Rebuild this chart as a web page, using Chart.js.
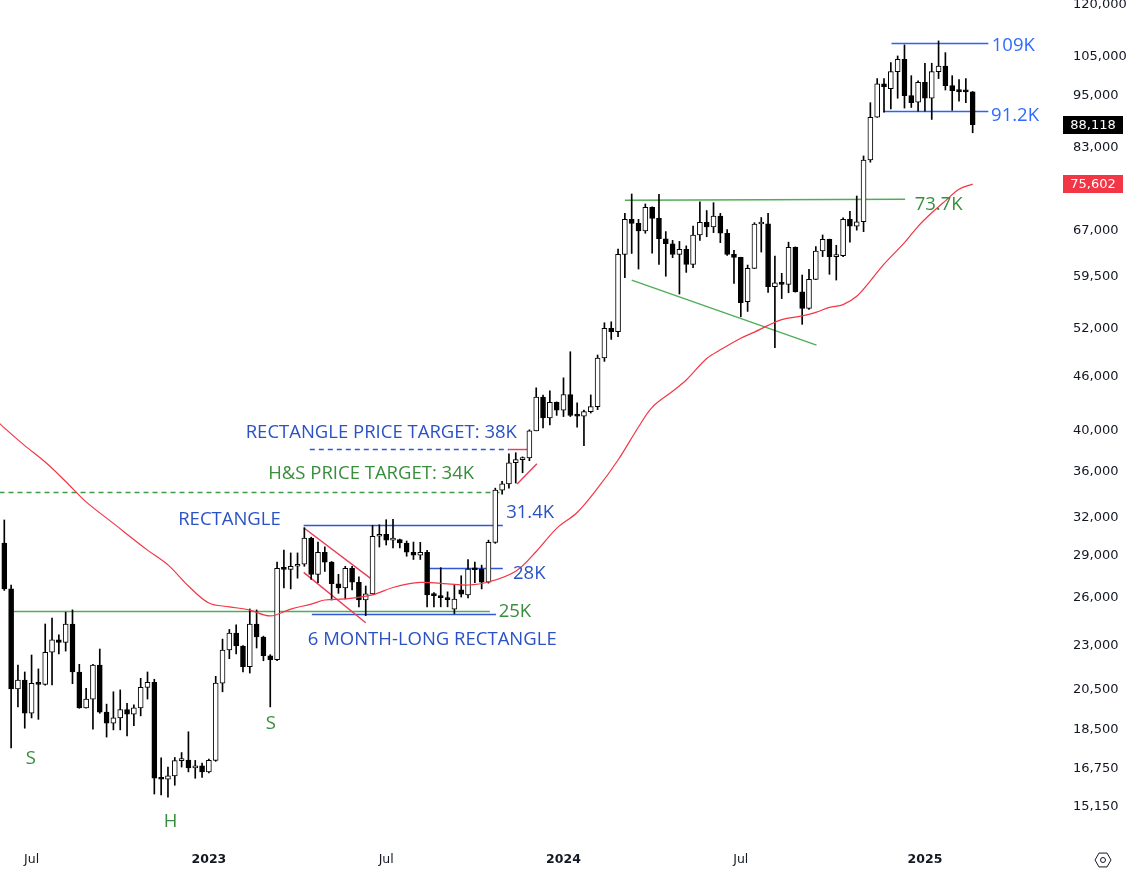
<!DOCTYPE html>
<html>
<head>
<meta charset="utf-8">
<title>BTC weekly</title>
<script src="https://cdn.jsdelivr.net/npm/chart.js@4.4.1/dist/chart.umd.min.js"></script>
<style>
  html, body { margin: 0; padding: 0; background: #fff; }
  #wrap { width: 1131px; height: 870px; }
</style>
</head>
<body>
<div id="wrap"><canvas id="btcChart" width="1131" height="870"></canvas></div>
<script>
// weekly candles, week of Jun 6 2022 -> week of Feb 24 2025
const open = [29950, 26600, 20550, 21030, 19310, 20850, 20790, 22590, 23320, 23170,
  24300, 21470, 19570, 20020, 21860, 19360, 18810, 19070, 19480, 19260,
  19570, 20630, 20900, 16320, 16280, 16420, 17080, 17100, 16760, 16850,
  16590, 17090, 20860, 22720, 23730, 22960, 21770, 24300, 23500, 22390,
  22160, 28060, 27980, 28200, 28350, 30320, 27620, 29240, 28500, 26960,
  26670, 28060, 27060, 25850, 26260, 30470, 30630, 30170, 30220, 29950,
  29240, 29030, 29240, 26190, 26140, 26000, 25240, 26540, 26190, 28000,
  28000, 27060, 29990, 34320, 34880, 36840, 37130, 37300, 40000, 43650,
  41340, 43060, 42200, 43930, 41620, 41550, 42030, 42580, 48270, 52100,
  51650, 63070, 69030, 68320, 67000, 71210, 69200, 65660, 64820, 63070,
  63890, 61450, 66300, 68500, 67700, 69630, 66590, 63070, 62570, 55810,
  60830, 68200, 68250, 58010, 58600, 58360, 64220, 57270, 54860, 59130,
  63610, 65570, 62690, 62850, 69030, 67820, 68600, 80450, 89830, 97890,
  96730, 101040, 104330, 94980, 93370, 98320, 94340, 101040, 102520, 97460,
  96200, 95960, 95900];
const high = [31780, 26870, 21860, 21470, 22430, 21640, 24300, 24680, 23630, 25050,
  25200, 21900, 20580, 21900, 22780, 19760, 20400, 20500, 19800, 19720,
  21120, 21470, 21070, 17200, 16800, 17220, 17440, 18400, 17090, 16970,
  17150, 21230, 23370, 23960, 24240, 22980, 25260, 25200, 23550, 22450,
  28500, 29400, 29190, 29190, 31150, 30400, 30020, 29650, 28550, 27620,
  28200, 28200, 27440, 26800, 31340, 31390, 31800, 31840, 30250, 30100,
  30020, 30000, 29380, 26350, 28100, 26400, 26870, 27520, 28700, 28500,
  28280, 30170, 34500, 35110, 37700, 37800, 37400, 40100, 44690, 43850,
  44350, 43100, 45860, 49050, 43000, 42200, 43880, 48640, 52860, 52990,
  63910, 70100, 73690, 69030, 71820, 71300, 73630, 66880, 65380, 65200,
  64460, 67850, 72230, 70610, 72060, 70100, 67230, 63740, 62600, 61350,
  68430, 69350, 70100, 62800, 60050, 65080, 64300, 59790, 60680, 64340,
  66300, 65600, 64560, 69310, 70490, 73310, 81290, 93270, 99250, 99250,
  103420, 105220, 108250, 100000, 98650, 103260, 103260, 109380, 106120, 100000,
  99000, 99250, 96000];
const low = [26500, 17650, 19620, 18570, 19070, 19000, 20750, 20760, 22500, 22660,
  20830, 19550, 19550, 18530, 19300, 18150, 18490, 18490, 18200, 18690,
  19170, 20020, 15670, 15630, 15540, 16030, 16800, 16590, 16320, 16360,
  16550, 17050, 20400, 22220, 22500, 21470, 21410, 22840, 22100, 19620,
  22100, 26670, 26600, 27350, 28200, 27260, 27040, 27830, 25850, 26300,
  25920, 26540, 25400, 24830, 26250, 29640, 29790, 29570, 29570, 28940,
  28700, 28700, 25400, 25400, 25400, 25400, 24950, 26050, 25990, 27040,
  26600, 27000, 29920, 33970, 34500, 34960, 35900, 37030, 40000, 40290,
  40600, 41620, 41500, 41500, 40370, 38500, 41880, 42250, 47850, 50640,
  51000, 59380, 63210, 60720, 66590, 63260, 61450, 59600, 62530, 56930,
  60200, 60920, 65380, 66000, 66700, 65000, 62900, 58520, 53690, 54430,
  60800, 63440, 57180, 49560, 56260, 57120, 57200, 52650, 54720, 59100,
  62700, 59900, 59020, 62700, 65080, 67130, 66870, 80000, 89800, 91000,
  91750, 94340, 91980, 92120, 91260, 91260, 89320, 99250, 96370, 91440,
  93640, 93270, 86300];
const close = [26600, 20550, 21030, 19310, 20850, 20790, 22590, 23320, 23170, 24300,
  21470, 19570, 20020, 21860, 19360, 18810, 19070, 19480, 19260, 19570,
  20630, 20900, 16320, 16280, 16420, 17080, 17100, 16760, 16850, 16590,
  17090, 20860, 22720, 23730, 22960, 21770, 24300, 23500, 22390, 22160,
  28060, 27980, 28200, 28350, 30320, 27620, 29240, 28500, 26960, 26670,
  28060, 27060, 25850, 26260, 30470, 30630, 30170, 30220, 29950, 29240,
  29030, 29240, 26190, 26140, 26000, 25880, 25920, 26240, 28000, 27950,
  27060, 29990, 34320, 34880, 36840, 37130, 37300, 40000, 43650, 41340,
  43060, 42200, 43930, 41620, 41550, 42030, 42580, 48270, 52100, 51650,
  63070, 69030, 68320, 67000, 71210, 69200, 65660, 64820, 63070, 63890,
  61450, 66300, 68500, 67700, 69630, 66590, 63070, 62570, 55670, 60830,
  68200, 68250, 58010, 58600, 58360, 64220, 57270, 54860, 59130, 63610,
  65570, 62690, 62850, 69030, 67820, 68600, 80450, 89830, 97890, 97200,
  101040, 104330, 94980, 93270, 98320, 94340, 101040, 102520, 97460, 96200,
  95960, 95900, 88118];

// moving average (red), read at these week indexes
const maWeek = [-1, 0, 3, 6, 9, 12, 16, 21, 24, 27, 30, 33, 36, 39, 42, 45, 47, 50, 54, 57,
  61, 65, 68, 71, 75, 78, 81, 84, 87, 90, 93, 95, 98, 100, 103, 105, 108, 110, 112, 114,
  117, 119, 121, 123, 125, 127, 129, 132, 134, 136, 138, 140, 142];
const maValue = [41000, 40300, 38500, 36900, 35100, 33300, 31500, 29400, 28300, 26800,
  25650, 25400, 25190, 24810, 25250, 25580, 25850, 25920, 26200, 26700,
  27050, 26950, 26870, 27080, 27850, 29300, 31100, 32400, 34500, 37100,
  40400, 42500, 44300, 45600, 48200, 49300, 50800, 51600, 52500, 53300,
  53800, 54300, 55000, 55400, 56600, 58900, 61500, 65000, 67800, 70200,
  72400, 74600, 75602];

const yTicks = [15150, 16750, 18500, 20500, 23000, 26000, 29000, 32000, 36000, 40000,
  46000, 52000, 59500, 67000, 83000, 95000, 105000, 120000];
const xTickWeek = [4, 30, 56, 82, 108, 135];
const xTickLabel = ["Jul", "2023", "Jul", "2024", "Jul", "2025"];

// drawn levels: [weekFrom, priceFrom, weekTo, priceTo, kind]
const levels = [
  [1.4, 25100, 71.2, 25100, "green"],
  [45.1, 24950, 72.1, 24950, "blue"],
  [-0.7, 34160, 73, 34160, "greenDash"],
  [44.8, 38170, 74.1, 38170, "blueDash"],
  [74.1, 38170, 76.8, 38170, "red"],
  [43.9, 31390, 73.1, 31390, "blue"],
  [62.3, 28110, 73.1, 28110, "blue"],
  [43.9, 31150, 53.9, 27260, "red"],
  [43.9, 27760, 53.0, 24380, "red"],
  [75.2, 34880, 78.1, 36750, "red"],
  [91.0, 72500, 132.1, 72700, "green"],
  [92.0, 59020, 119.1, 49890, "green"],
  [130.1, 108880, 144.3, 108880, "bright"],
  [128.9, 91280, 144.3, 91280, "bright"]
];

// text notes: [text, week, price, kind, align]
const notes = [
  ["RECTANGLE PRICE TARGET: 38K", 35.4, 39770, "blue", "left"],
  ["H&S PRICE TARGET: 34K", 38.7, 35790, "green", "left"],
  ["RECTANGLE", 25.5, 31780, "blue", "left"],
  ["31.4K", 73.6, 32360, "blue", "left"],
  ["28K", 74.6, 27680, "blue", "left"],
  ["25K", 72.5, 25060, "green", "left"],
  ["6 MONTH-LONG RECTANGLE", 44.5, 23320, "blue", "left"],
  ["S", 3.9, 17150, "green", "center"],
  ["H", 24.4, 14580, "green", "center"],
  ["S", 39.1, 18770, "green", "center"],
  ["109K", 144.8, 107970, "bright", "left"],
  ["91.2K", 144.7, 90130, "bright", "left"],
  ["73.7K", 133.5, 71630, "green", "left"]
];

const lineColor = { green: "#4fae55", greenDash: "#3f9a48", blue: "#2f57d8", blueDash: "#2f57d8", red: "#ec3b55", bright: "#2962ff" };
const textColor = { green: "#388e3c", blue: "#2a52c4", bright: "#2f6bff" };

const overlay = {
  id: "overlay",
  beforeDatasetsDraw(chart) {
    const { ctx, chartArea, scales: { x, y } } = chart;
    ctx.save();
    ctx.beginPath();
    ctx.rect(chartArea.left, chartArea.top, chartArea.width, chartArea.height);
    ctx.clip();
    levels.forEach(([w1, p1, w2, p2, kind]) => {
      let y1 = y.getPixelForValue(p1), y2 = y.getPixelForValue(p2);
      if (p1 === p2) { y1 = y2 = Math.round(y1) + 0.5; }
      ctx.strokeStyle = lineColor[kind];
      ctx.lineWidth = 1.4;
      ctx.setLineDash(kind.endsWith("Dash") ? [5, 4] : []);
      ctx.beginPath();
      ctx.moveTo(x.getPixelForValue(w1), y1);
      ctx.lineTo(x.getPixelForValue(w2), y2);
      ctx.stroke();
    });
    ctx.restore();
  },
  afterDraw(chart) {
    const { ctx, chartArea, scales: { x, y } } = chart;
    ctx.save();
    ctx.font = "18.5px 'Open Sans'";
    ctx.textBaseline = "middle";
    notes.forEach(([text, w, p, kind, align]) => {
      ctx.fillStyle = textColor[kind];
      ctx.textAlign = align;
      ctx.fillText(text, x.getPixelForValue(w), y.getPixelForValue(p));
    });

    // last price + MA boxes on the axis
    const boxes = [[close[close.length - 1], "#000000"], [maValue[maValue.length - 1], "#f23645"]];
    ctx.font = "13px 'DejaVu Sans'";
    ctx.textAlign = "center";
    boxes.forEach(([v, bg]) => {
      const py = Math.round(y.getPixelForValue(v));
      ctx.fillStyle = bg;
      ctx.fillRect(chartArea.right + 1, py - 9, 60, 18);
      ctx.fillStyle = "#fff";
      ctx.fillText(v.toLocaleString("en-US"), chartArea.right + 31, py + 1);
    });

    // settings icon
    const cx = 1103, cy = 860, r = 8;
    ctx.strokeStyle = "#131722";
    ctx.lineWidth = 1;
    ctx.beginPath();
    for (let k = 0; k < 6; k++) {
      const a = Math.PI / 3 * k;
      const px = cx + r * Math.cos(a), py = cy + r * Math.sin(a);
      k === 0 ? ctx.moveTo(px, py) : ctx.lineTo(px, py);
    }
    ctx.closePath();
    ctx.stroke();
    ctx.beginPath();
    ctx.arc(cx, cy, 2.5, 0, Math.PI * 2);
    ctx.stroke();
    ctx.restore();
  }
};

document.addEventListener("DOMContentLoaded", () => {
  const bodies = close.map((c, i) => ({ x: i, y: [open[i], c] }));
  const wicks = close.map((c, i) => ({ x: i, y: [low[i], high[i]] }));
  const up = close.map((c, i) => c >= open[i]);
  const ma = maWeek.map((w, i) => ({ x: w, y: maValue[i] }));

  const ctx = document.getElementById("btcChart").getContext("2d");
  new Chart(ctx, {
    type: "bar",
    data: {
      datasets: [
        { type: "line", data: ma, borderColor: "#f23645", borderWidth: 1.2, pointRadius: 0, tension: 0.35, order: 1 },
        { data: bodies, backgroundColor: up.map(u => u ? "#ffffff" : "#000000"), borderColor: "#000000",
          borderWidth: 1, borderSkipped: false, barThickness: 5, minBarLength: 2, grouped: false, order: 2 },
        { data: wicks, backgroundColor: "#000000", barThickness: 1, grouped: false, order: 3 }
      ]
    },
    options: {
      responsive: false,
      animation: false,
      devicePixelRatio: 1,
      layout: { padding: 0 },
      plugins: { legend: { display: false }, tooltip: { enabled: false } },
      scales: {
        x: {
          type: "linear", min: -0.63, max: 155.1, offset: false,
          grid: { display: false, drawTicks: false }, border: { display: false },
          afterBuildTicks: s => { s.ticks = xTickWeek.map(v => ({ value: v })); },
          afterFit: s => { s.height = 27; s.paddingLeft = 0; s.paddingRight = 0; },
          ticks: {
            autoSkip: false, maxRotation: 0, padding: 9, color: "#131722",
            font: c => ({ family: "'DejaVu Sans'", size: 12.5, weight: /^\d/.test(xTickLabel[c.index] || "") ? "bold" : "normal" }),
            callback: (v, i) => xTickLabel[i]
          }
        },
        y: {
          type: "logarithmic", position: "right", min: 13810, max: 121560,
          grid: { display: false, drawTicks: false }, border: { display: false },
          afterBuildTicks: s => { s.ticks = yTicks.map(v => ({ value: v })); },
          afterFit: s => { s.width = 69; s.paddingTop = 0; s.paddingBottom = 0; },
          ticks: {
            autoSkip: false, padding: 11, color: "#131722",
            font: { family: "'DejaVu Sans'", size: 13 },
            callback: v => Number(v).toLocaleString("en-US")
          }
        }
      }
    },
    plugins: [overlay]
  });
});
</script>
</body>
</html>
